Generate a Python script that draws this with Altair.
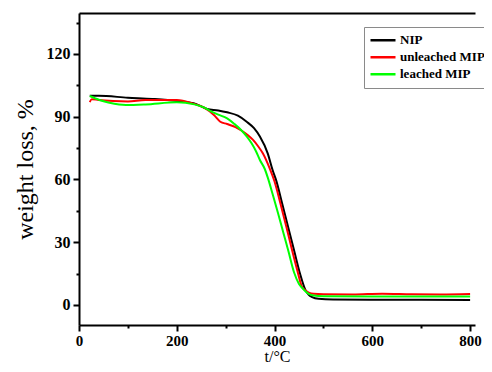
import altair as alt
import pandas as pd

series_names = ["NIP", "unleached MIP", "leached MIP"]
series_colors = ["#000000", "#ff0000", "#00ff00"]

nip_t = [22, 40, 100, 150, 200, 240, 262, 285, 303, 325, 343, 358, 370, 386, 396, 403,
         415, 428, 440, 452, 463, 470, 477, 490, 520, 600, 700, 800]
nip_w = [100, 100, 99.1, 98.5, 97.5, 96, 93.7, 93, 92.1, 90.5, 87.6, 84.5, 80.5, 72.5, 64.5, 59.8,
         49, 37, 26, 15, 7.2, 4.8, 3.7, 2.9, 2.6, 2.5, 2.5, 2.4]

unl_t = [22, 26, 40, 70, 100, 136, 200, 232, 256, 276, 289, 303, 320, 333, 345, 356, 366, 376,
         390, 400, 412, 424, 435, 446, 456, 463, 470, 480, 500, 560, 620, 680, 740, 800]
unl_w = [97, 98.4, 98, 97.5, 97.3, 98, 98, 96.4, 94.3, 90.8, 87.6, 86.5, 85, 83.3, 81.3, 78.9, 76, 72.5,
         65.3, 59, 48.5, 37.5, 27, 17, 8.7, 7, 5.9, 5.3, 5.1, 5, 5.4, 5.1, 5, 5.2]

lea_t = [22, 42, 60, 82, 96, 136, 200, 236, 255, 269, 285, 303, 318, 333, 343, 353, 362, 370,
         380, 386, 396, 407, 418, 428, 440, 450, 457, 463, 470, 480, 500, 600, 700, 800]
lea_w = [99.9, 98, 96.8, 95.8, 95.6, 95.9, 96.9, 95.9, 94.5, 92.7, 91, 89.2, 86.5, 83.3, 80.6, 77.3, 73.5, 69.3,
         65, 61, 53, 44, 34.5, 26, 15.5, 10, 8, 6.5, 5.3, 4.5, 4.1, 4, 4, 4]

x_ticks = [0, 100, 200, 300, 400, 500, 600, 700, 800]
y_ticks = [0, 15, 30, 45, 60, 75, 90, 105, 120, 135]

rows = []
for name, ts, ws in [(series_names[0], nip_t, nip_w),
                     (series_names[1], unl_t, unl_w),
                     (series_names[2], lea_t, lea_w)]:
    for t, w in zip(ts, ws):
        rows.append({"T": t, "W": w, "series": name})
df = pd.DataFrame(rows)

FONT = "Liberation Serif"
xscale = alt.Scale(domain=[0, 810], nice=False, zero=False)
yscale = alt.Scale(domain=[-9.6, 139.6], nice=False, zero=False)

yaxis = alt.Axis(
    title="weight loss, %", values=y_ticks,
    labelExpr="datum.value % 30 === 0 ? datum.label : ''",
    tickSize={"condition": {"test": "datum.value % 30 === 0", "value": 6}, "value": 3},
    grid=False, domainColor="black", domainWidth=2, tickColor="black", tickWidth=2,
    labelFont=FONT, labelFontWeight="bold", labelFontSize=16, labelColor="black", labelPadding=3,
    titleFont=FONT, titleFontWeight="normal", titleFontSize=24, titleColor="black", titlePadding=9,
)

xaxis = alt.Axis(
    title="t/°C", values=x_ticks,
    labelExpr="datum.value % 200 === 0 ? datum.label : ''",
    tickSize={"condition": {"test": "datum.value % 200 === 0", "value": 6}, "value": 3},
    grid=False, domainColor="black", domainWidth=2, tickColor="black", tickWidth=2,
    labelFont=FONT, labelFontWeight="bold", labelFontSize=15, labelColor="black", labelPadding=2,
    labelFlush=False,
    titleFont=FONT, titleFontWeight="normal", titleFontSize=16, titleColor="black", titlePadding=0,
)

lines = alt.Chart(df).mark_line(strokeWidth=2, interpolate="monotone").encode(
    x=alt.X("T:Q", scale=xscale, axis=xaxis),
    y=alt.Y("W:Q", scale=yscale, axis=yaxis),
    color=alt.Color("series:N",
                    scale=alt.Scale(domain=series_names, range=series_colors),
                    legend=alt.Legend(
                        orient="none", legendX=285, legendY=14, title=None,
                        symbolType="stroke", symbolStrokeWidth=2.5, symbolSize=625,
                        labelFont=FONT, labelFontWeight="bold", labelFontSize=13,
                        labelColor="black", labelOffset=3,
                        strokeColor="#8a8a8a", fillColor="white", padding=5,
                        rowPadding=0, clipHeight=16.5,
                    )),
    detail="series:N",
)

top = alt.Chart(df).mark_line(opacity=0).encode(
    x=alt.X("T:Q", scale=xscale,
            axis=alt.Axis(orient="top", labels=False, ticks=False, title=None, grid=False,
                          domainColor="black", domainWidth=2)),
    y=alt.Y("W:Q", scale=yscale, axis=yaxis),
)

chart = alt.layer(lines, top).resolve_axis(x="independent").properties(
    width=396, height=312,
    autosize=alt.AutoSizeParams(type="none"),
    padding={"left": 71, "top": 5, "right": 9, "bottom": 41},
    background="white",
).configure_view(stroke=None)

chart.save("out.html", embed_options={"renderer": "svg", "actions": False})
